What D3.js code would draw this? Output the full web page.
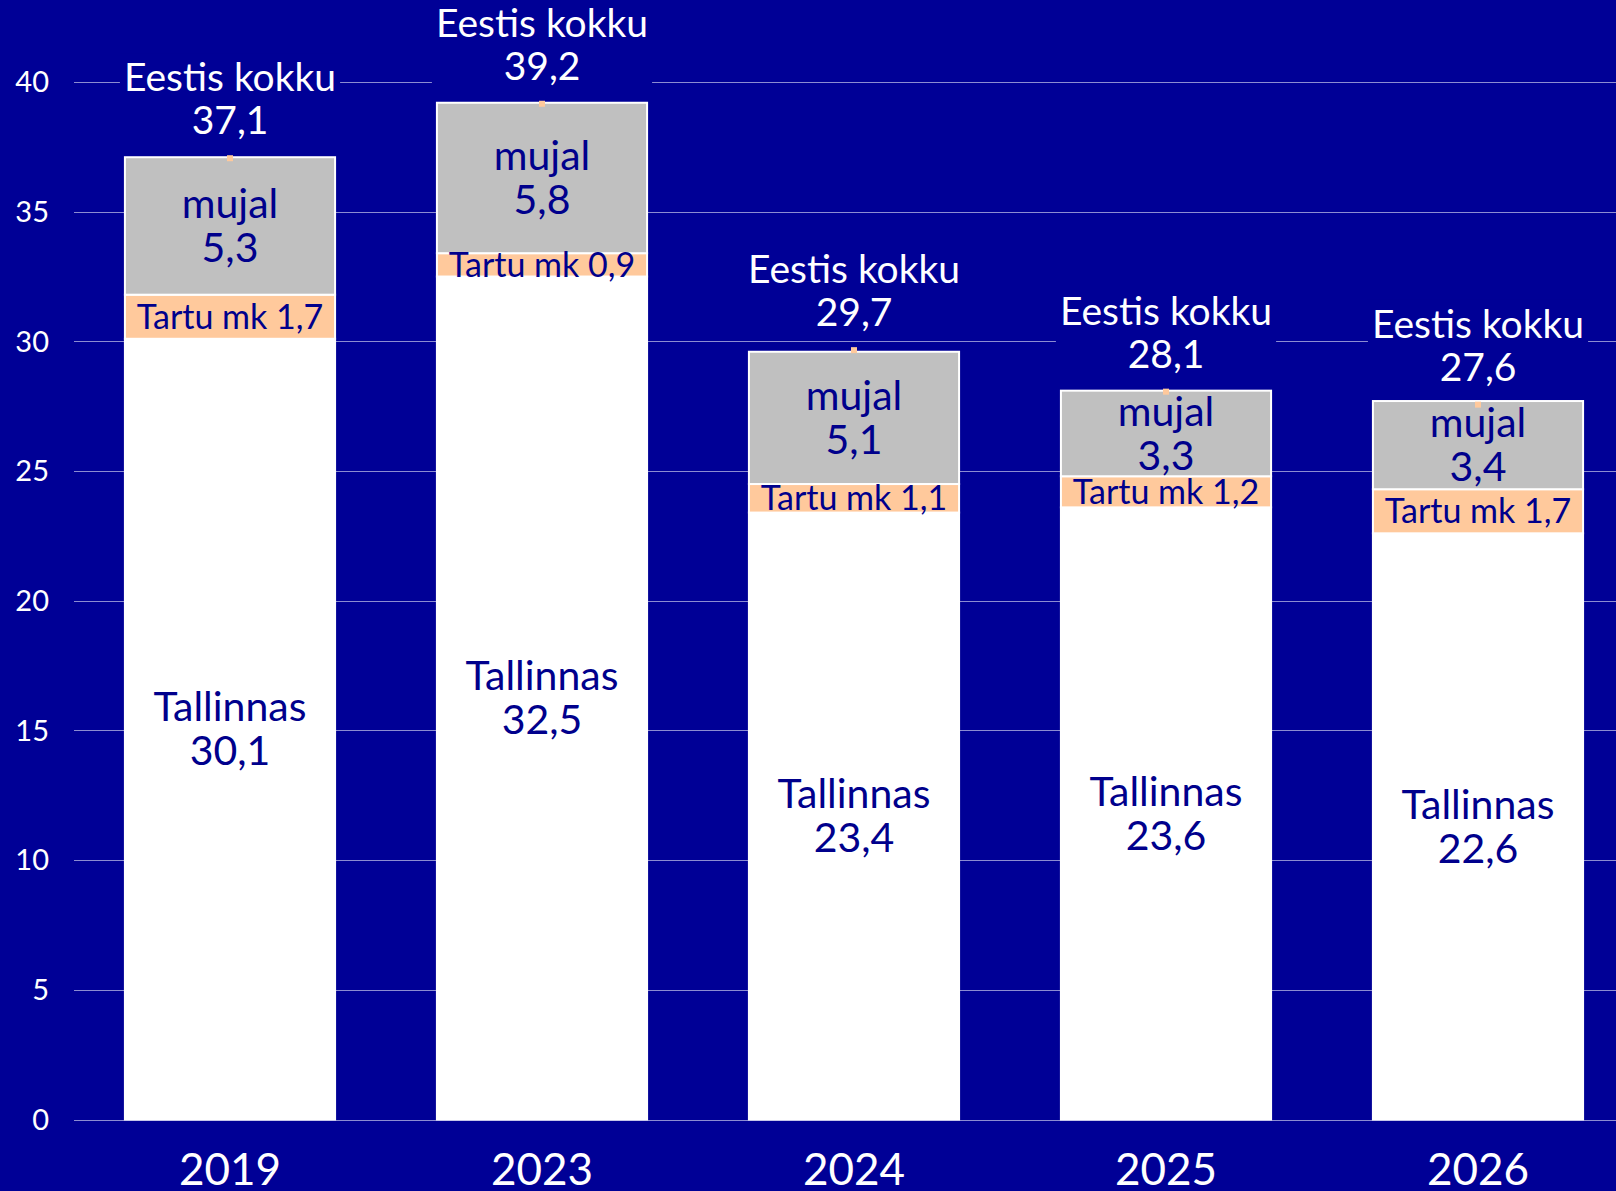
<!DOCTYPE html>
<html>
<head>
<meta charset="utf-8">
<script src="https://cdn.jsdelivr.net/npm/d3@7"></script>
<style>
  html, body { margin: 0; padding: 0; background: #000096; }
  svg { display: block; }
  text { font-family: Lato, "Noto Sans", sans-serif; }
</style>
</head>
<body>
<div id="graph"></div>
<script>
// chart data
var years = ["2019", "2023", "2024", "2025", "2026"]
var tallinnas = [30.1, 32.5, 23.4, 23.6, 22.6]
var tartu = [1.7, 0.9, 1.1, 1.2, 1.7]
var mujal = [5.3, 5.8, 5.1, 3.3, 3.4]
var kokku = [37.1, 39.2, 29.7, 28.1, 27.6]
var yTicks = [0, 5, 10, 15, 20, 25, 30, 35, 40]

var width = 1616, height = 1191
var margin = {top: 0, left: 74, bottom: 72, right: -18}
var bg = "#000096", ink = "#00008c"

var svg = d3.select("#graph").append("svg")
    .attr("width", width).attr("height", height)

svg.append("rect").attr("width", width).attr("height", height).attr("fill", bg)

var x = d3.scaleBand().domain(years)
    .range([margin.left, width - margin.right])
    .paddingInner(0.32).paddingOuter(0.16)

var y = d3.scaleLinear().domain([0, 40]).range([1119.5, 82])

var fmt = function(v) { return d3.format(".1f")(v).replace(".", ",") }

// gridlines
svg.append("g").selectAll("line")
    .data(yTicks)
    .enter().append("line")
    .attr("x1", margin.left).attr("x2", width)
    .attr("y1", function(d) { return Math.round(y(d)) + 0.5 })
    .attr("y2", function(d) { return Math.round(y(d)) + 0.5 })
    .attr("stroke", "#8c8cd2").attr("stroke-width", 1)

// y tick labels
svg.append("g").selectAll("text")
    .data(yTicks)
    .enter().append("text")
    .attr("x", 49).attr("y", function(d) { return y(d) })
    .attr("dy", "0.35em")
    .attr("text-anchor", "end")
    .attr("font-size", 29)
    .attr("fill", "#ffffff")
    .text(function(d) { return d })

// stacked segments
var rows = years.map(function(yr, i) {
    return {year: yr, tallinnas: tallinnas[i], tartu: tartu[i], mujal: mujal[i], total: kokku[i]}
})
var stack = d3.stack().keys(["tallinnas", "tartu", "mujal"])(rows)
var colors = {tallinnas: "#ffffff", tartu: "#ffc99c", mujal: "#c0c0c0"}

var layers = svg.append("g").selectAll("g")
    .data(stack)
    .enter().append("g")
    .attr("fill", function(d) { return colors[d.key] })

layers.selectAll("rect")
    .data(function(d) { return d })
    .enter().append("rect")
    .attr("x", function(d) { return x(d.data.year) + 1 })
    .attr("width", x.bandwidth() - 2)
    .attr("y", function(d) { return y(d[1]) })
    .attr("height", function(d) { return y(d[0]) - y(d[1]) })
    .attr("stroke", "#ffffff")
    .attr("stroke-width", 2)

// little markers for the total series
svg.append("g").selectAll("rect")
    .data(rows)
    .enter().append("rect")
    .attr("x", function(d) { return x(d.year) + x.bandwidth() / 2 - 3 })
    .attr("y", function(d) { return y(d.total) - 2 })
    .attr("width", 6).attr("height", 6)
    .attr("fill", "#ffc99c")

// labels inside segments
function twoLine(g, cx, cy, a, b, size, gap) {
    var t = g.append("text")
        .attr("text-anchor", "middle")
        .attr("font-size", size)
        .attr("fill", ink)
    t.append("tspan").attr("x", cx).attr("y", cy - gap / 2 + size * 0.35).text(a)
    t.append("tspan").attr("x", cx).attr("y", cy + gap / 2 + size * 0.35).text(b)
    return t
}

var labels = svg.append("g")
rows.forEach(function(d, i) {
    var cx = x(d.year) + x.bandwidth() / 2
    var s = stack

    // Tallinnas
    var y0 = y(s[0][i][0]), y1 = y(s[0][i][1])
    twoLine(labels, cx, (y0 + y1) / 2, "Tallinnas", fmt(d.tallinnas), 41, 44)

    // Tartu mk
    var t0 = y(s[1][i][0]), t1 = y(s[1][i][1])
    labels.append("text")
        .attr("x", cx).attr("y", (t0 + t1) / 2)
        .attr("dy", "0.35em")
        .attr("text-anchor", "middle")
        .attr("font-size", 34)
        .attr("fill", ink)
        .text("Tartu mk " + fmt(d.tartu))

    // mujal
    var m0 = y(s[2][i][0]), m1 = y(s[2][i][1])
    twoLine(labels, cx, (m0 + m1) / 2, "mujal", fmt(d.mujal), 41, 44)

    // Eestis kokku, on a background box so gridlines break
    var top = y(d.total)
    var g = labels.append("g")
    var tt = g.append("text")
        .attr("text-anchor", "middle")
        .attr("font-size", 39)
        .attr("fill", "#ffffff")
    tt.append("tspan").attr("x", cx).attr("y", top - 66).text("Eestis kokku")
    tt.append("tspan").attr("x", cx).attr("y", top - 23).text(fmt(d.total))
    var bb = tt.node().getBBox()
    g.insert("rect", "text")
        .attr("x", bb.x - 4).attr("y", bb.y)
        .attr("width", bb.width + 8).attr("height", bb.height)
        .attr("fill", bg)
})

// x axis labels
svg.append("g").selectAll("text")
    .data(years)
    .enter().append("text")
    .attr("x", function(d) { return x(d) + x.bandwidth() / 2 })
    .attr("y", 1185)
    .attr("text-anchor", "middle")
    .attr("font-size", 44)
    .attr("fill", "#ffffff")
    .text(function(d) { return d })
</script>
</body>
</html>
